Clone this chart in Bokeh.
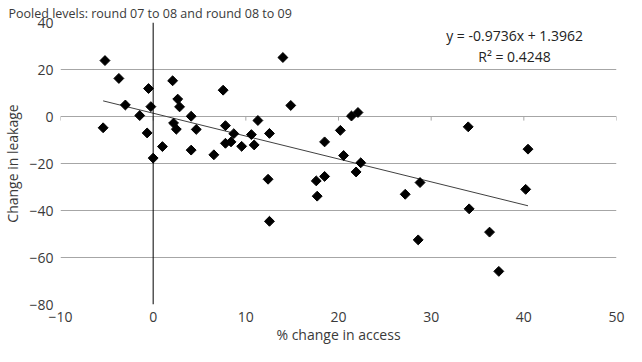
import math
from bokeh.plotting import figure
from bokeh.models import Range1d, Span, Label, FixedTicker, ColumnDataSource
from bokeh.embed import file_html
from bokeh.resources import INLINE

title_text = "Pooled levels: round 07 to 08 and round 08 to 09"
x_label = "% change in access"
y_label = "Change in leakage"
eq_text = "y = -0.9736x + 1.3962"
r2_text = "R\u00b2 = 0.4248"
slope = -0.9736
intercept = 1.3962

x_ticks = [-10, 0, 10, 20, 30, 40, 50]
y_ticks = [-80, -60, -40, -20, 0, 20, 40]

access_change = [-5.2, -3.7, -3.0, -0.5, -0.25, -1.45, -5.4, -0.65, 0.0, 1.0,
                 2.1, 2.65, 2.85, 2.2, 2.5, 4.1, 4.1, 4.65, 6.55, 7.55,
                 7.8, 7.8, 8.4, 8.7, 9.55, 10.6, 10.9, 11.3, 12.55, 12.4,
                 12.55, 14.0, 14.85, 17.6, 17.7, 18.5, 18.5, 20.2, 20.55, 21.4,
                 22.1, 21.9, 22.4, 27.2, 28.8, 28.6, 34.0, 34.1, 36.3, 37.3,
                 40.2, 40.45]
leakage_change = [23.8, 16.2, 4.9, 11.9, 4.2, 0.4, -4.8, -7.0, -17.7, -12.8,
                  15.2, 7.4, 4.1, -2.8, -5.4, 0.1, -14.3, -5.5, -16.3, 11.2,
                  -3.9, -11.4, -10.8, -7.3, -12.7, -7.7, -12.1, -1.7, -7.2, -26.7,
                  -44.6, 25.1, 4.7, -27.4, -33.9, -25.5, -10.8, -5.9, -16.6, 0.2,
                  1.7, -23.6, -19.7, -33.1, -28.1, -52.5, -4.4, -39.3, -49.2, -65.9,
                  -31.0, -13.9]

FONT = "Open Sans"
TXT = "#3a3a3a"
GRID = "#a6a6a6"

W, H = 626, 346
BL, BR, BT, BB = 58, 10, 22, 36
p = figure(width=W, height=H, output_backend="svg", toolbar_location=None,
           x_range=Range1d(-10, 50), y_range=Range1d(-80, 40),
           min_border_left=BL, min_border_right=BR, min_border_top=BT, min_border_bottom=BB)
p.outline_line_color = None
p.background_fill_color = "white"
p.border_fill_color = "white"

p.title.text = title_text
p.title.text_font = FONT
p.title.text_font_size = "12.5px"
p.title.text_font_style = "normal"
p.title.text_color = TXT
p.title.align = "left"
p.title.offset = -52
p.title.standoff = 2

p.xgrid.visible = False
p.ygrid.ticker = FixedTicker(ticks=y_ticks)
p.ygrid.grid_line_color = GRID
p.ygrid.grid_line_width = 1

for ax in (p.xaxis, p.yaxis):
    ax.axis_line_color = None
    ax.major_tick_line_color = None
    ax.minor_tick_line_color = None
    ax.major_tick_in = 0
    ax.major_tick_out = 0
    ax.minor_tick_in = 0
    ax.minor_tick_out = 0
    ax.major_label_text_font = FONT
    ax.major_label_text_font_size = "14px"
    ax.major_label_text_color = TXT
    ax.axis_label_text_font = FONT
    ax.axis_label_text_font_size = "14px"
    ax.axis_label_text_font_style = "normal"
    ax.axis_label_text_color = TXT

p.xaxis.ticker = FixedTicker(ticks=x_ticks)
p.xaxis.major_label_standoff = 7
p.xaxis.axis_label = x_label
p.xaxis.axis_label_standoff = 0

p.yaxis.ticker = FixedTicker(ticks=y_ticks)
p.yaxis.major_label_standoff = 7
p.yaxis.axis_label = y_label
p.yaxis.axis_label_standoff = 4

# horizontal axis line crossing at y = 0 with short downward ticks
px_per_unit = (H - BT - 47) / (40 - (-80))
tick_len = 4 / px_per_unit
n = len(x_ticks)
p.segment(x0=x_ticks, y0=[0] * n, x1=x_ticks, y1=[-tick_len] * n,
          line_color=GRID, line_width=1)

# vertical axis crossing at x = 0
p.add_layout(Span(location=0, dimension="height", line_color="black", line_width=1))

# trend line over data range
xmin, xmax = min(access_change), max(access_change)
p.line([xmin, xmax], [slope * xmin + intercept, slope * xmax + intercept],
       line_color="#404040", line_width=1)

src = ColumnDataSource(dict(x=access_change, y=leakage_change))
p.scatter("x", "y", source=src, marker="square", size=7, angle=math.pi / 4,
          fill_color="black", line_color="black")

p.add_layout(Label(x=39.0, y=34.3, text=eq_text, text_align="center", text_baseline="middle",
                   text_font=FONT, text_font_size="14px", text_color="#222222"))
p.add_layout(Label(x=39.0, y=25.4, text=r2_text, text_align="center", text_baseline="middle",
                   text_font=FONT, text_font_size="14px", text_color="#222222"))

open("out.html", "w").write(file_html(p, INLINE))
